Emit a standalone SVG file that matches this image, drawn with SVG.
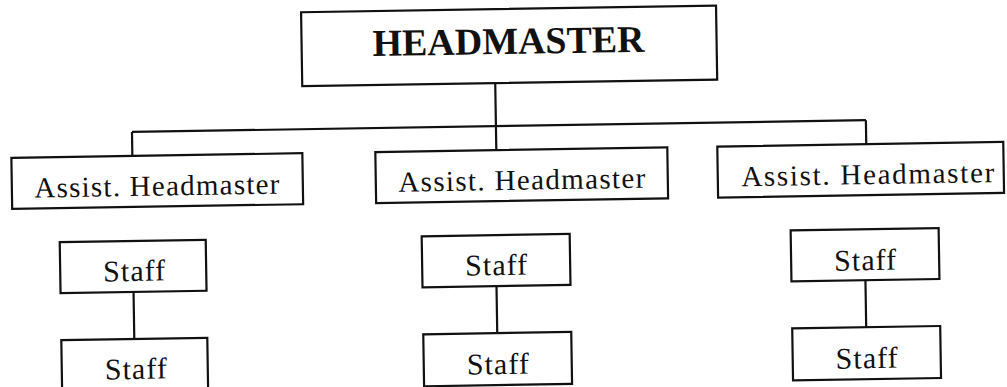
<svg xmlns="http://www.w3.org/2000/svg" width="1007" height="387" viewBox="0 0 1007 387">
  <style>
    .box { fill: #fff; stroke: #111; stroke-width: 2.2; }
    .link { fill: none; stroke: #111; stroke-width: 2.2; }
    .lbl { font-family: "Liberation Serif", "Times New Roman", serif; fill: #111; text-anchor: middle; }
    .head { font-size: 38px; font-weight: bold; }
    .asst { font-size: 29px; }
    .staff { font-size: 30px; }
  </style>
  <rect width="1007" height="387" fill="#fff"/>
  <!-- the sheet sits a little skewed -->
  <g transform="rotate(-0.92 503 193)">
    <g id="connectors">
      <path class="link" d="M497 83 V150"/>
      <path class="link" d="M133 126 H867"/>
      <path class="link" d="M133 126 V150"/>
      <path class="link" d="M867 126 V150"/>
      <path class="link" d="M132 286 V333"/>
      <path class="link" d="M495 286 V333"/>
      <path class="link" d="M864 286 V333"/>
    </g>
    <g id="headmaster">
      <rect class="box" x="304" y="9" width="415" height="74"/>
      <text class="lbl head" x="511" y="54" textLength="272" lengthAdjust="spacingAndGlyphs">HEADMASTER</text>
    </g>
    <g id="assist-left">
      <rect class="box" x="12" y="150" width="291" height="51"/>
      <text class="lbl asst" x="157" y="190" textLength="245" lengthAdjust="spacing">Assist. Headmaster</text>
    </g>
    <g id="assist-middle">
      <rect class="box" x="376" y="150" width="292" height="51"/>
      <text class="lbl asst" x="522" y="190" textLength="247" lengthAdjust="spacing">Assist. Headmaster</text>
    </g>
    <g id="assist-right">
      <rect class="box" x="718" y="150" width="286" height="51"/>
      <text class="lbl asst" x="868" y="190" textLength="253" lengthAdjust="spacing">Assist. Headmaster</text>
    </g>
    <g id="staff-left-1">
      <rect class="box" x="59" y="235" width="146" height="51"/>
      <text class="lbl staff" x="133" y="275" textLength="62" lengthAdjust="spacing">Staff</text>
    </g>
    <g id="staff-left-2">
      <rect class="box" x="59" y="333" width="146" height="52"/>
      <text class="lbl staff" x="133" y="373" textLength="62" lengthAdjust="spacing">Staff</text>
    </g>
    <g id="staff-middle-1">
      <rect class="box" x="421" y="235" width="148" height="51"/>
      <text class="lbl staff" x="495" y="275" textLength="62" lengthAdjust="spacing">Staff</text>
    </g>
    <g id="staff-middle-2">
      <rect class="box" x="421" y="333" width="148" height="52"/>
      <text class="lbl staff" x="495" y="374" textLength="62" lengthAdjust="spacing">Staff</text>
    </g>
    <g id="staff-right-1">
      <rect class="box" x="790" y="235" width="148" height="51"/>
      <text class="lbl staff" x="864" y="276" textLength="62" lengthAdjust="spacing">Staff</text>
    </g>
    <g id="staff-right-2">
      <rect class="box" x="790" y="333" width="148" height="52"/>
      <text class="lbl staff" x="864" y="374" textLength="62" lengthAdjust="spacing">Staff</text>
    </g>
  </g>
</svg>
